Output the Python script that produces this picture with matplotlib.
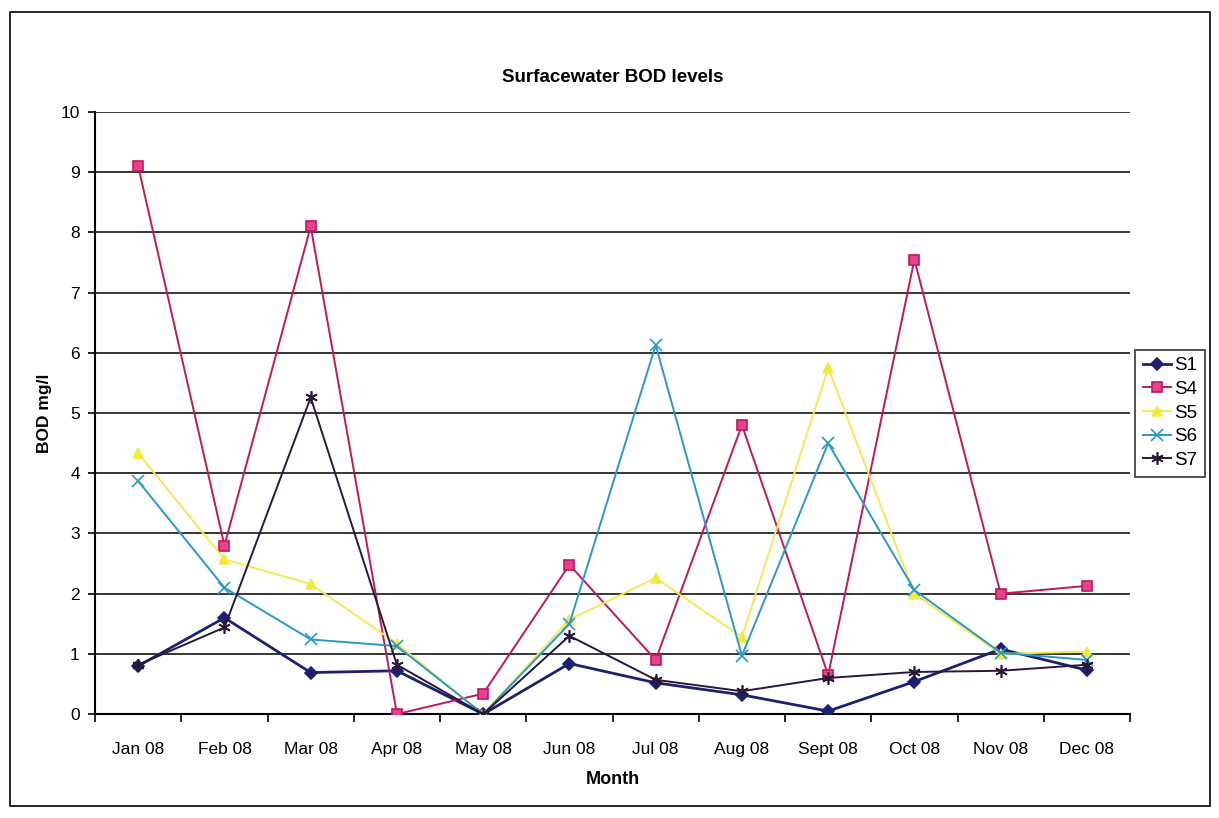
import matplotlib.pyplot as plt
import numpy as np
from matplotlib.patches import Rectangle

# BOD readings per sampling station (mg/l), Jan-Dec 2008
months = ['Jan 08', 'Feb 08', 'Mar 08', 'Apr 08', 'May 08', 'Jun 08',
          'Jul 08', 'Aug 08', 'Sept 08', 'Oct 08', 'Nov 08', 'Dec 08']
s1 = [0.8, 1.6, 0.69, 0.72, 0.0, 0.84, 0.52, 0.32, 0.05, 0.54, 1.08, 0.73]
s4 = [9.1, 2.8, 8.1, 0.0, 0.34, 2.48, 0.9, 4.8, 0.65, 7.55, 2.0, 2.13]
s5 = [4.33, 2.57, 2.16, 1.17, 0.0, 1.57, 2.26, 1.28, 5.75, 2.0, 1.0, 1.04]
s6 = [3.87, 2.1, 1.24, 1.13, 0.0, 1.5, 6.13, 0.97, 4.5, 2.06, 1.02, 0.9]
s7 = [0.82, 1.44, 5.26, 0.82, 0.0, 1.3, 0.57, 0.38, 0.6, 0.7, 0.72, 0.82]

plt.rcParams.update({'font.family': ['Liberation Sans', 'DejaVu Sans']})

fig = plt.figure(figsize=(12.19, 8.18), dpi=100)
ax = fig.add_axes([0.078, 0.127, 0.849, 0.736])

x = np.arange(len(months))
series = [
    ('S1', s1, '#1b2170', 'D', '#1b2170', 6),
    ('S4', s4, '#c0185e', 's', '#e8408e', 7),
    ('S5', s5, '#f2ea55', '^', '#f2ea2a', 7),
    ('S6', s6, '#2a98c8', 'x', '#2a98c8', 8),
    ('S7', s7, '#2a1838', (6, 2, 0), '#2a1838', 9),
]
for name, vals, col, mk, mfc, ms in series:
    lw = 2.0 if name == 'S1' else 1.4
    ax.plot(x, vals, color=col, lw=lw, marker=mk, markersize=ms,
            markerfacecolor=mfc, markeredgecolor=col,
            markeredgewidth=1.2, label=name, zorder=3)

ax.set_xlim(-0.5, len(months) - 0.5)
ax.set_ylim(0, 10)
ax.set_yticks(range(0, 11))
ax.grid(axis='y', color='black', lw=1.1)
ax.set_axisbelow(True)

# category labels centred, tick marks between categories
ax.set_xticks(x)
ax.set_xticklabels(months, fontsize=12.5)
ax.set_xticks(np.arange(-0.5, len(months), 1), minor=True)
ax.tick_params(axis='x', which='major', length=0, pad=20)
ax.tick_params(axis='x', which='minor', length=6, width=1.2, direction='out')
ax.tick_params(axis='y', length=5, width=1.2, labelsize=12.5, pad=6)

for side in ['top', 'right']:
    ax.spines[side].set_visible(False)
ax.spines['left'].set_linewidth(1.5)
ax.spines['bottom'].set_linewidth(1.5)

ax.set_title('Surfacewater BOD levels', fontsize=13.5, fontweight='bold', pad=22)
ax.set_xlabel('Month', fontsize=13, fontweight='bold', labelpad=10)
ax.set_ylabel('BOD mg/l', fontsize=12.5, fontweight='bold', labelpad=6)

leg = ax.legend(loc='center left', bbox_to_anchor=(1.005, 0.5), fontsize=13.5,
                frameon=True, fancybox=False, edgecolor='black',
                handlelength=1.5, borderpad=0.4, labelspacing=0.35,
                handletextpad=0.2, borderaxespad=0)
leg.get_frame().set_linewidth(1.2)

# chart area border
fig.patches.append(Rectangle((0.008, 0.015), 0.985, 0.97, transform=fig.transFigure,
                             fill=False, edgecolor='black', lw=1.2))

plt.savefig('out.png', dpi=100)
